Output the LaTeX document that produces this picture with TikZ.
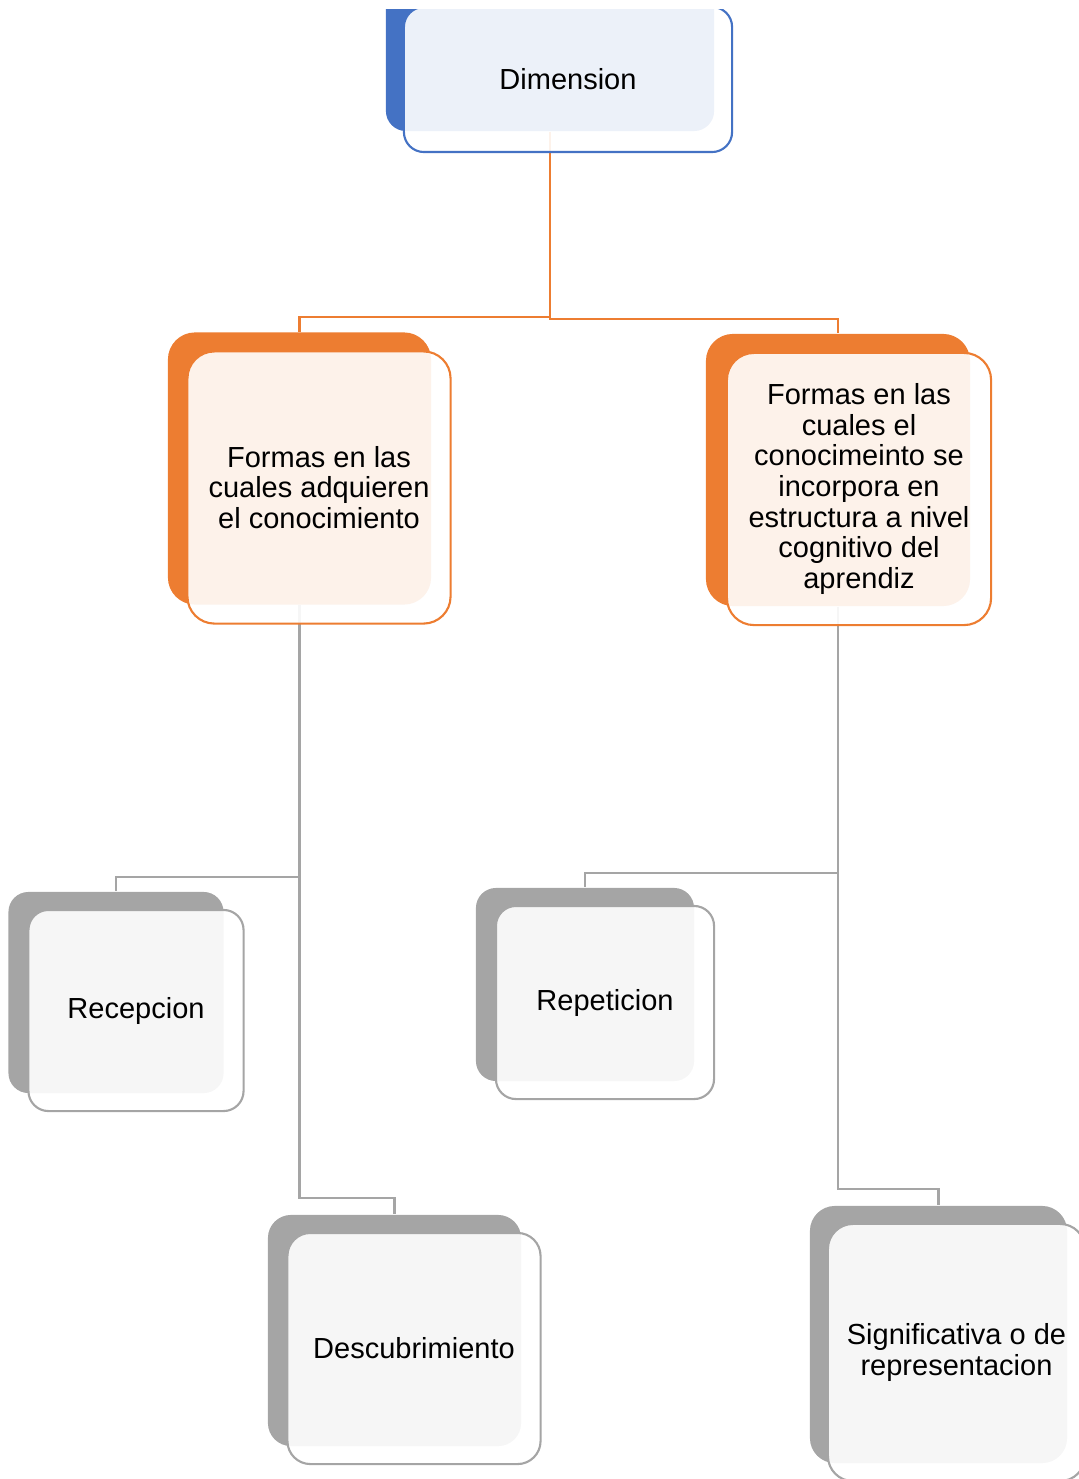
\documentclass[tikz,border=0pt]{standalone}
\usepackage{fontspec}
\setmainfont{Liberation Sans}
\usepackage{tikz}
\pgfdeclarelayer{bg}
\pgfsetlayers{bg,main}
\definecolor{dimblue}{HTML}{4472C4}
\definecolor{formorange}{HTML}{ED7D31}
\definecolor{waygray}{HTML}{A5A5A5}
\tikzset{
    backbox/.style={fill=#1, inner sep=0pt},
    frontbox/.style={draw=#1, line width=0.6pt, fill=white, fill opacity=0.9,
    	text opacity=1, inner sep=0pt, align=center,
    	font=\fontsize{8.25}{8.7}\selectfont},
    link/.style={draw=#1, line width=0.6pt}
}

\begin{document}
\begin{tikzpicture}[x=0.01cm, y=-0.01cm]
	\useasboundingbox (0,0) rectangle (1079,1479);
	\begin{scope}
	\clip (0,10) rectangle (1079,1479);
	\node (bDim) [backbox=dimblue, rounded corners=2mm, minimum width=3.28cm, minimum height=1.45cm] at (550, 58.5) {};
	\node (Dim) [frontbox=dimblue, rounded corners=2mm, minimum width=3.28cm, minimum height=1.45cm] at (568, 79.5) {Dimension};
	
	\node (bAdq) [backbox=formorange, rounded corners=2.7mm, minimum width=2.63cm, minimum height=2.72cm] at (299.5, 468.5) {};
	\node (Adq) [frontbox=formorange, rounded corners=2.7mm, minimum width=2.63cm, minimum height=2.72cm] at (319, 487.5) {Formas en las\\cuales adquieren\\el conocimiento};
	\node (bInc) [backbox=formorange, rounded corners=2.7mm, minimum width=2.64cm, minimum height=2.72cm] at (838, 470) {};
	\node (Inc) [frontbox=formorange, rounded corners=2.7mm, minimum width=2.64cm, minimum height=2.72cm] at (859, 489) {Formas en las\\cuales el\\conocimeinto se\\incorpora en\\estructura a nivel\\cognitivo del\\aprendiz};
	
	\node (bRec) [backbox=waygray, rounded corners=2mm, minimum width=2.15cm, minimum height=2.01cm] at (116, 992.5) {};
	\node (Rec) [frontbox=waygray, rounded corners=2mm, minimum width=2.15cm, minimum height=2.01cm] at (136, 1010.5) {Recepcion};
	\node (bDes) [backbox=waygray, rounded corners=2.3mm, minimum width=2.53cm, minimum height=2.31cm] at (394.5, 1330.5) {};
	\node (Des) [frontbox=waygray, rounded corners=2.3mm, minimum width=2.53cm, minimum height=2.31cm] at (414, 1348.5) {Descubrimiento};
	\node (bRep) [backbox=waygray, rounded corners=2mm, minimum width=2.18cm, minimum height=1.93cm] at (585, 984.5) {};
	\node (Rep) [frontbox=waygray, rounded corners=2mm, minimum width=2.18cm, minimum height=1.93cm] at (605, 1002.5) {Repeticion};
	\node (bSig) [backbox=waygray, rounded corners=2.5mm, minimum width=2.57cm, minimum height=2.57cm] at (938.5, 1334.5) {};
	\node (Sig) [frontbox=waygray, rounded corners=2.5mm, minimum width=2.57cm, minimum height=2.57cm] at (956.5, 1352.5) {Significativa o de\\representacion};
	\end{scope}
	
	\begin{pgfonlayer}{bg}
	\draw [link=formorange] (bDim.south) -- ++(0,185) -| (bAdq.north);
	\draw [link=formorange] (bDim.south) -- ++(0,187) -| (bInc.north);
	\draw [link=waygray] (bAdq.south) -- ++(0,272) -| (bRec.north);
	\draw [link=waygray] (bAdq.south) -- ++(0,593) -| (bDes.north);
	\draw [link=waygray] (bInc.south) -- ++(0,266) -| (bRep.north);
	\draw [link=waygray] (bInc.south) -- ++(0,582) -| (bSig.north);
	\end{pgfonlayer}
\end{tikzpicture}
\end{document}
